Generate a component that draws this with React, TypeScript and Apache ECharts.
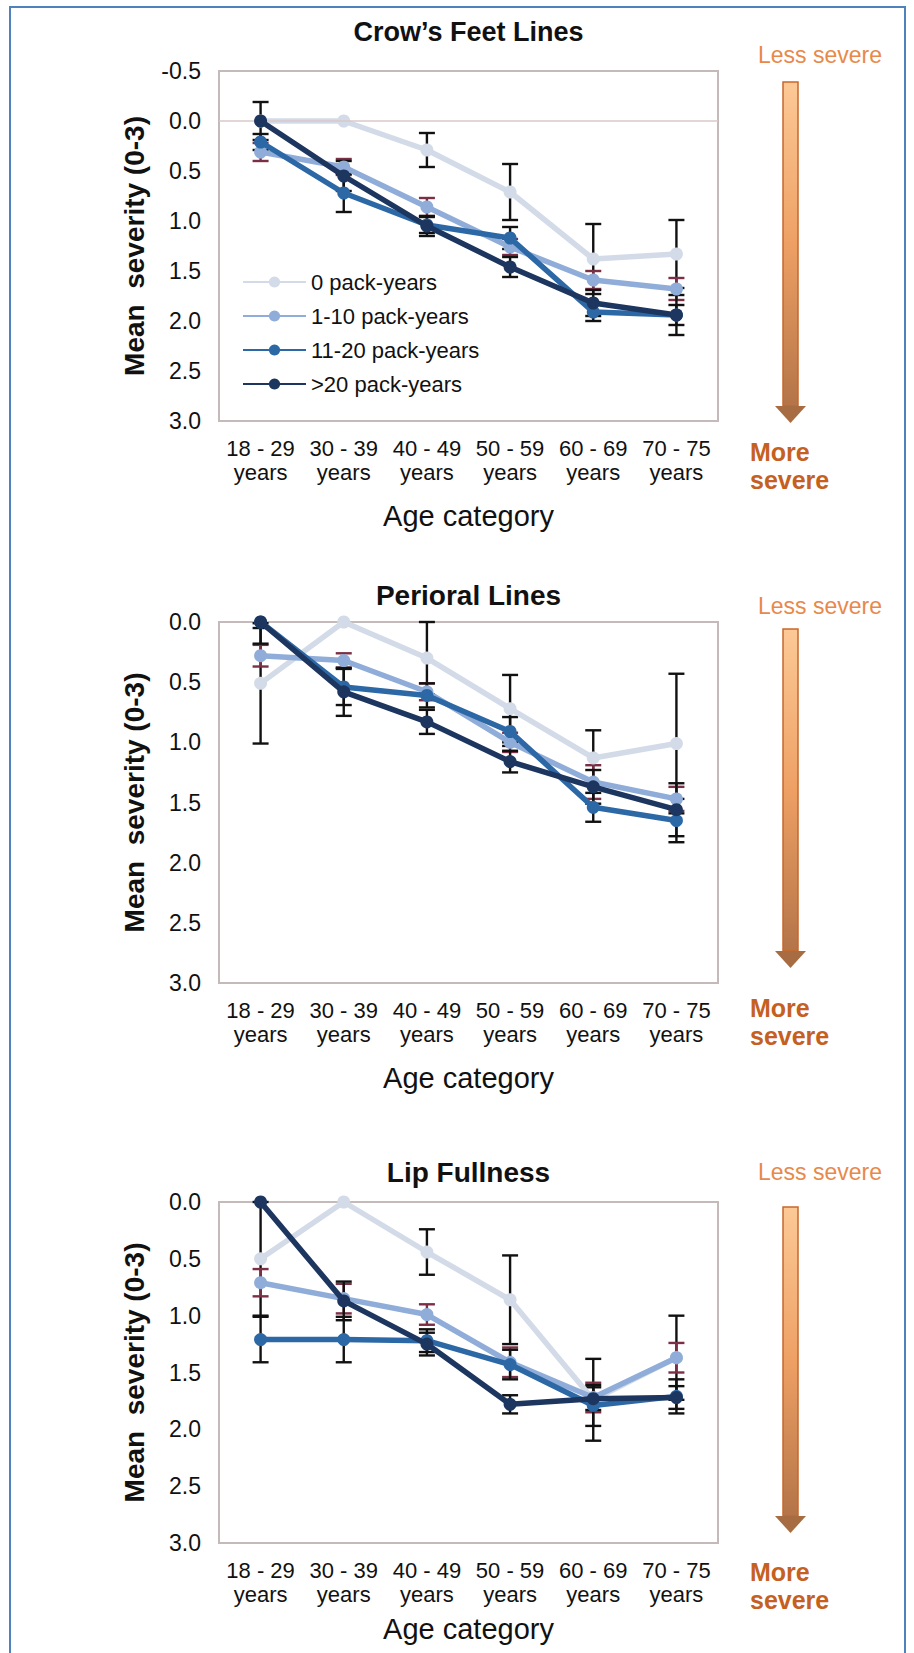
import React, { useEffect, useRef } from "react";
import * as echarts from "echarts";

// ---------- data ----------
const categories = [
  "18 - 29\nyears",
  "30 - 39\nyears",
  "40 - 49\nyears",
  "50 - 59\nyears",
  "60 - 69\nyears",
  "70 - 75\nyears",
];
const seriesNames = ["0 pack-years", "1-10 pack-years", "11-20 pack-years", ">20 pack-years"];
const panelTitles = ["Crow\u2019s Feet Lines", "Perioral Lines", "Lip Fullness"];
const yMins = [-0.5, 0, 0];
const yMax = 3;
const yInterval = 0.5;

// Crow's Feet Lines: means per series
const crowMeans0 = [0.0, 0.0, 0.29, 0.71, 1.38, 1.33];
const crowMeans1 = [0.31, 0.46, 0.86, 1.26, 1.59, 1.68];
const crowMeans2 = [0.21, 0.72, 1.04, 1.17, 1.91, 1.94];
const crowMeans3 = [0.0, 0.55, 1.05, 1.46, 1.82, 1.94];
// error half-widths
const crowErr0 = [0, 0, 0.17, 0.28, 0.35, 0.34];
const crowErr1 = [0.09, 0.08, 0.09, 0.08, 0.09, 0.11];
const crowErr2 = [0.08, 0.19, 0.08, 0.11, 0.09, 0.1];
const crowErr3 = [0.19, 0.15, 0.1, 0.1, 0.13, 0.2];

// Perioral Lines
const periMeans0 = [0.51, 0.0, 0.3, 0.72, 1.13, 1.01];
const periMeans1 = [0.28, 0.32, 0.58, 1.0, 1.33, 1.47];
const periMeans2 = [0.0, 0.54, 0.61, 0.91, 1.54, 1.65];
const periMeans3 = [0.0, 0.58, 0.83, 1.16, 1.37, 1.56];
const periErr0 = [0.5, 0, 0.3, 0.28, 0.23, 0.58];
const periErr1 = [0.09, 0.06, 0.07, 0.08, 0.14, 0.1];
const periErr2 = [0.05, 0.15, 0.1, 0.12, 0.12, 0.18];
const periErr3 = [0.18, 0.2, 0.1, 0.09, 0.14, 0.22];

// Lip Fullness
const lipMeans0 = [0.5, 0.0, 0.44, 0.86, 1.74, 1.37];
const lipMeans1 = [0.71, 0.85, 0.99, 1.41, 1.72, 1.37];
const lipMeans2 = [1.21, 1.21, 1.22, 1.43, 1.79, 1.71];
const lipMeans3 = [0.0, 0.87, 1.25, 1.78, 1.73, 1.72];
const lipErr0 = [0.5, 0, 0.2, 0.39, 0.36, 0.37];
const lipErr1 = [0.12, 0.13, 0.09, 0.13, 0.13, 0.13];
const lipErr2 = [0.2, 0.2, 0.1, 0.13, 0.18, 0.15];
const lipErr3 = [0, 0.17, 0.1, 0.08, 0.1, 0.1];

const panelMeans = [
  [crowMeans0, crowMeans1, crowMeans2, crowMeans3],
  [periMeans0, periMeans1, periMeans2, periMeans3],
  [lipMeans0, lipMeans1, lipMeans2, lipMeans3],
];
const panelErrs = [
  [crowErr0, crowErr1, crowErr2, crowErr3],
  [periErr0, periErr1, periErr2, periErr3],
  [lipErr0, lipErr1, lipErr2, lipErr3],
];

// ---------- styling / layout ----------
const FONT = "'Liberation Sans', Arial, Helvetica, sans-serif";
const seriesColors = ["#d3dbe8", "#8fadd8", "#2d68a6", "#1d365f"];
const errorColors = ["#111111", "#7a2f45", "#111111", "#111111"];
const layout = [
  { top: 71, height: 350, title: 32, less: 55, arrowTop: 82, tip: 423, more: 452, severe: 480, nameGap: 80 },
  { top: 622, height: 361, title: 595, less: 606, arrowTop: 629, tip: 968, more: 1008, severe: 1036, nameGap: 80 },
  { top: 1202, height: 341, title: 1172, less: 1172, arrowTop: 1207, tip: 1533, more: 1572, severe: 1600, nameGap: 71 },
];
const GRID_LEFT = 219;
const GRID_WIDTH = 499;
const ARROW_CX = 790.5;

function errorRenderItem(color: string) {
  return (params: any, api: any) => {
    const i = api.value(0);
    const lo = api.coord([i, api.value(1)]);
    const hi = api.coord([i, api.value(2)]);
    const capLo = api.value(3) === 1;
    const capHi = api.value(4) === 1;
    const w = 8;
    const st = { stroke: color, lineWidth: 2.4 };
    const children: any[] = [
      { type: "line", shape: { x1: lo[0], y1: lo[1], x2: hi[0], y2: hi[1] }, style: st },
    ];
    if (capLo) children.push({ type: "line", shape: { x1: lo[0] - w, y1: lo[1], x2: lo[0] + w, y2: lo[1] }, style: st });
    if (capHi) children.push({ type: "line", shape: { x1: hi[0] - w, y1: hi[1], x2: hi[0] + w, y2: hi[1] }, style: st });
    return { type: "group", children };
  };
}

function buildOption() {
  const grid: any[] = [];
  const xAxis: any[] = [];
  const yAxis: any[] = [];
  const series: any[] = [];
  const graphic: any[] = [];

  graphic.push({
    type: "rect",
    silent: true,
    z: 100,
    shape: { x: 10, y: 7, width: 895, height: 1670 },
    style: { fill: "none", stroke: "#4f81bd", lineWidth: 2 },
  });

  layout.forEach((L, p) => {
    grid.push({
      left: GRID_LEFT,
      width: GRID_WIDTH,
      top: L.top,
      height: L.height,
      show: true,
      borderColor: "#c4baba",
      borderWidth: 2,
      backgroundColor: "transparent",
    });
    xAxis.push({
      type: "category",
      gridIndex: p,
      data: categories,
      boundaryGap: true,
      axisLine: { show: false },
      axisTick: { show: false },
      axisLabel: { interval: 0, fontSize: 22, lineHeight: 24, color: "#111", margin: 15, fontFamily: FONT },
      name: "Age category",
      nameLocation: "middle",
      nameGap: L.nameGap,
      nameTextStyle: { fontSize: 29, color: "#111", fontFamily: FONT },
    });
    yAxis.push({
      type: "value",
      gridIndex: p,
      inverse: true,
      min: yMins[p],
      max: yMax,
      interval: yInterval,
      axisLine: { show: false },
      axisTick: { show: false },
      splitLine: { show: false },
      axisLabel: {
        fontSize: 23,
        color: "#111",
        margin: 18,
        fontFamily: FONT,
        formatter: (v: number) => v.toFixed(1),
      },
      name: "Mean  severity (0-3)",
      nameLocation: "middle",
      nameGap: 71,
      nameTextStyle: { fontSize: 28, fontWeight: "bold", color: "#111", fontFamily: FONT },
    });

    for (let s = 0; s < 4; s++) {
      const means = panelMeans[p][s];
      const errs = panelErrs[p][s];
      const rows: number[][] = [];
      means.forEach((m, i) => {
        if (errs[i] > 0) {
          const lo = m - errs[i];
          const hi = m + errs[i];
          rows.push([
            i,
            Math.max(lo, yMins[p]),
            Math.min(hi, yMax),
            lo >= yMins[p] ? 1 : 0,
            hi <= yMax ? 1 : 0,
          ]);
        }
      });
      series.push({
        type: "custom",
        xAxisIndex: p,
        yAxisIndex: p,
        silent: true,
        z: 2,
        data: rows,
        encode: { x: 0, y: [1, 2] },
        renderItem: errorRenderItem(errorColors[s]),
      });
    }
    for (let s = 0; s < 4; s++) {
      const ser: any = {
        type: "line",
        name: seriesNames[s],
        xAxisIndex: p,
        yAxisIndex: p,
        data: panelMeans[p][s],
        symbol: "circle",
        symbolSize: 13,
        showSymbol: true,
        z: 3 + s,
        lineStyle: { width: 5.5, color: seriesColors[s] },
        itemStyle: { color: seriesColors[s] },
        emphasis: { disabled: true },
      };
      if (p === 0 && s === 0) {
        ser.markLine = {
          silent: true,
          symbol: ["none", "none"],
          label: { show: false },
          lineStyle: { color: "#d8c8c8", width: 1.5, type: "solid" },
          data: [{ yAxis: 0 }],
        };
      }
      series.push(ser);
    }

    graphic.push({
      type: "text",
      silent: true,
      x: GRID_LEFT + GRID_WIDTH / 2,
      y: L.title,
      style: {
        text: panelTitles[p],
        font: `bold ${p === 0 ? 27 : 28}px ${FONT}`,
        fill: "#111",
        align: "center",
        verticalAlign: "middle",
      },
    });
    graphic.push({
      type: "text",
      silent: true,
      x: 820,
      y: L.less,
      style: {
        text: "Less severe",
        font: `23px ${FONT}`,
        fill: "#e8894a",
        align: "center",
        verticalAlign: "middle",
      },
    });
    const headH = 17;
    graphic.push({
      type: "rect",
      silent: true,
      shape: { x: ARROW_CX - 7.5, y: L.arrowTop, width: 15, height: L.tip - headH - L.arrowTop },
      style: {
        fill: {
          type: "linear",
          x: 0,
          y: 0,
          x2: 0,
          y2: 1,
          colorStops: [
            { offset: 0, color: "#fcc996" },
            { offset: 0.5, color: "#eea064" },
            { offset: 1, color: "#b47448" },
          ],
        },
        stroke: "#c8672a",
        lineWidth: 1.5,
      },
    });
    graphic.push({
      type: "polygon",
      silent: true,
      shape: {
        points: [
          [ARROW_CX - 15.5, L.tip - headH],
          [ARROW_CX + 15.5, L.tip - headH],
          [ARROW_CX, L.tip],
        ],
      },
      style: { fill: "#a86c42" },
    });
    graphic.push({
      type: "text",
      silent: true,
      x: 750,
      y: L.more,
      style: { text: "More", font: `bold 25px ${FONT}`, fill: "#c5601f", align: "left", verticalAlign: "middle" },
    });
    graphic.push({
      type: "text",
      silent: true,
      x: 750,
      y: L.severe,
      style: { text: "severe", font: `bold 25px ${FONT}`, fill: "#c5601f", align: "left", verticalAlign: "middle" },
    });
  });

  return {
    animation: false,
    backgroundColor: "#ffffff",
    textStyle: { fontFamily: FONT },
    grid,
    xAxis,
    yAxis,
    legend: {
      show: true,
      orient: "vertical",
      left: 237,
      top: 266,
      itemWidth: 63,
      itemHeight: 14,
      itemGap: 12,
      selectedMode: false,
      data: seriesNames,
      textStyle: { fontSize: 22, color: "#111", fontFamily: FONT },
    },
    series,
    graphic,
  };
}

export default function App() {
  const ref = useRef<HTMLDivElement>(null);
  useEffect(() => {
    document.body.style.margin = "0";
    document.body.style.overflow = "hidden";
    if (!ref.current) return;
    const chart = echarts.init(ref.current, undefined, { renderer: "svg" });
    chart.setOption(buildOption() as any);
    return () => chart.dispose();
  }, []);
  return <div ref={ref} style={{ width: 914, height: 1653 }} />;
}
